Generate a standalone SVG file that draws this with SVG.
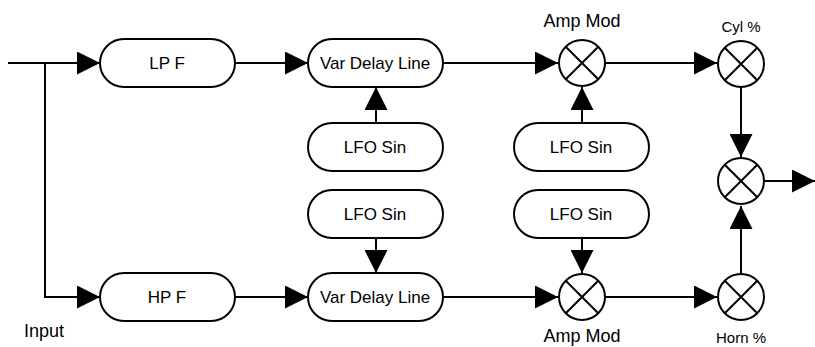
<svg xmlns="http://www.w3.org/2000/svg" width="815" height="347" viewBox="0 0 815 347">
<style>
.box{fill:#fff;stroke:#000;stroke-width:2}
.mix{fill:#fff;stroke:#000;stroke-width:2}
.ln{fill:none;stroke:#000;stroke-width:2}
.t{font-family:"Liberation Sans",Arial,sans-serif;font-size:17px;fill:#000;text-anchor:middle}
.s{font-family:"Liberation Sans",Arial,sans-serif;font-size:15px;fill:#000;text-anchor:middle}
</style>
<defs>
<marker id="ah" markerUnits="userSpaceOnUse" markerWidth="23" markerHeight="23" refX="23" refY="11.5" orient="auto" viewBox="0 0 23 23">
<path d="M0,0 L23,11.5 L0,23 Z" fill="#000"/>
</marker>
</defs>
<rect width="815" height="347" fill="#fff"/>
<g id="connectors">
<path class="ln" d="M8,63 H100" marker-end="url(#ah)"/>
<path class="ln" d="M45,63 V297 H100" marker-end="url(#ah)"/>
<path class="ln" d="M235,63 H308" marker-end="url(#ah)"/>
<path class="ln" d="M235,297 H308" marker-end="url(#ah)"/>
<path class="ln" d="M443,63 H558" marker-end="url(#ah)"/>
<path class="ln" d="M443,297 H558" marker-end="url(#ah)"/>
<path class="ln" d="M376,123 V87" marker-end="url(#ah)"/>
<path class="ln" d="M376,238 V273" marker-end="url(#ah)"/>
<path class="ln" d="M582,123 V87" marker-end="url(#ah)"/>
<path class="ln" d="M582,238 V273" marker-end="url(#ah)"/>
<path class="ln" d="M606,63 H717" marker-end="url(#ah)"/>
<path class="ln" d="M606,297 H717" marker-end="url(#ah)"/>
<path class="ln" d="M741,87 V157" marker-end="url(#ah)"/>
<path class="ln" d="M741,273 V206" marker-end="url(#ah)"/>
<path class="ln" d="M765,181 H815" marker-end="url(#ah)"/>
</g>
<g id="lpf"><rect class="box" x="100" y="39" width="135" height="48" rx="24"/><text class="t" x="167" y="69">LP F</text></g>
<g id="hpf"><rect class="box" x="100" y="273" width="135" height="48" rx="24"/><text class="t" x="167" y="303">HP F</text></g>
<g id="vdl1"><rect class="box" x="308" y="39" width="135" height="48" rx="24"/><text class="t" x="375" y="69">Var Delay Line</text></g>
<g id="vdl2"><rect class="box" x="308" y="273" width="135" height="48" rx="24"/><text class="t" x="375" y="303">Var Delay Line</text></g>
<g id="lfo1"><rect class="box" x="308" y="123" width="135" height="48" rx="24"/><text class="t" x="375" y="153">LFO Sin</text></g>
<g id="lfo2"><rect class="box" x="308" y="190" width="135" height="48" rx="24"/><text class="t" x="375" y="220">LFO Sin</text></g>
<g id="lfo3"><rect class="box" x="514" y="123" width="135" height="48" rx="24"/><text class="t" x="581" y="153">LFO Sin</text></g>
<g id="lfo4"><rect class="box" x="514" y="190" width="135" height="48" rx="24"/><text class="t" x="581" y="220">LFO Sin</text></g>
<g id="amp1"><circle class="mix" cx="582" cy="63" r="23"/><path class="ln" d="M566,47 L598,79 M598,47 L566,79"/><text class="t" x="582" y="27" style="font-size:18px">Amp Mod</text></g>
<g id="amp2"><circle class="mix" cx="582" cy="297" r="23"/><path class="ln" d="M566,281 L598,313 M598,281 L566,313"/><text class="t" x="582" y="342" style="font-size:18px">Amp Mod</text></g>
<g id="cyl"><circle class="mix" cx="741" cy="64" r="23"/><path class="ln" d="M725,48 L757,80 M757,48 L725,80"/><text class="s" x="741" y="32">Cyl %</text></g>
<g id="sum"><circle class="mix" cx="741" cy="181" r="23"/><path class="ln" d="M725,165 L757,197 M757,165 L725,197"/></g>
<g id="horn"><circle class="mix" cx="741" cy="297" r="23"/><path class="ln" d="M725,281 L757,313 M757,281 L725,313"/><text class="s" x="741" y="343">Horn %</text></g>
<g id="input"><text class="t" x="44" y="337" style="font-size:18px">Input</text></g>
</svg>
